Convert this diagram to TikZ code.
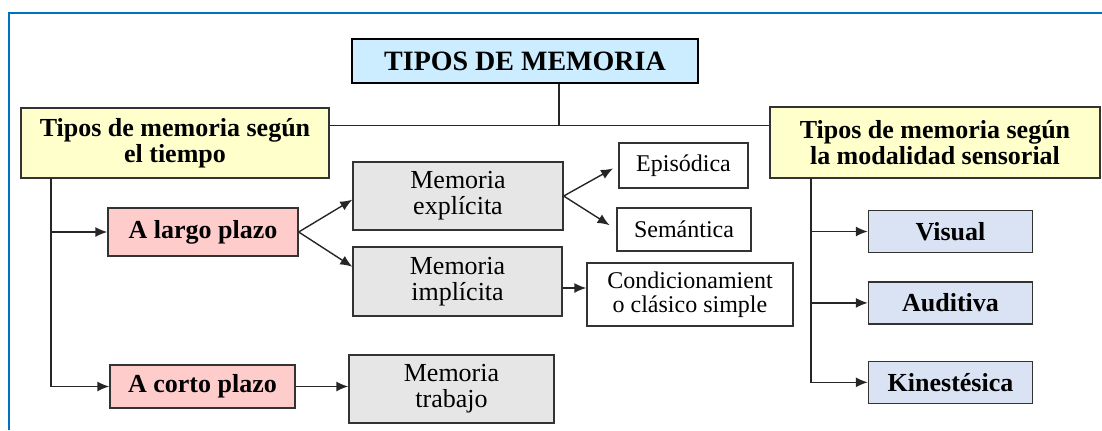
\documentclass[tikz,border=0pt]{standalone}
\usepackage{fontspec}
\setmainfont{Liberation Serif}
\usetikzlibrary{arrows.meta, positioning}
\definecolor{framecol}{RGB}{0,112,192}
\definecolor{titlecol}{RGB}{204,236,255}
\definecolor{groupcol}{RGB}{255,255,204}
\definecolor{termcol}{RGB}{255,204,204}
\definecolor{memocol}{RGB}{230,230,230}
\definecolor{sensecol}{RGB}{218,227,243}
\tikzset{
    titlebox/.style={
        rectangle, draw=black, line width=1.1pt,
        minimum width=173pt, minimum height=22pt, inner sep=0pt,
        fill=titlecol, font=\fontsize{14}{15}\selectfont\bfseries
    },
    groupbox/.style={
        rectangle, draw=black!80, line width=0.7pt,
        inner sep=0pt, align=center,
        fill=groupcol, font=\fontsize{13}{13}\selectfont\bfseries
    },
    termbox/.style={
        rectangle, draw=black!80, line width=0.7pt,
        inner sep=0pt, fill=termcol,
        font=\fontsize{13}{13}\selectfont\bfseries
    },
    memobox/.style={
        rectangle, draw=black!80, line width=0.7pt,
        inner sep=0pt, align=center,
        fill=memocol, font=\fontsize{13}{13}\selectfont
    },
    leafbox/.style={
        rectangle, draw=black!80, line width=0.7pt,
        inner sep=0pt, align=center,
        fill=white, font=\fontsize{12}{11.8}\selectfont
    },
    sensebox/.style={
        rectangle, draw=black!80, line width=0.7pt,
        minimum width=82pt, minimum height=21pt, inner sep=0pt,
        fill=sensecol, font=\fontsize{13}{13}\selectfont\bfseries
    },
    link/.style={draw=black!85, line width=0.7pt},
    arrow/.style={link, -{Latex[length=6pt,width=5pt]}},
    frameline/.style={draw=framecol, line width=1pt}
}

\begin{document}
\begin{tikzpicture}[x=0.5pt, y=-0.5pt]

\useasboundingbox (0,0) rectangle (1102,430);
\draw[frameline] (8.5,430) -- (8.5,13) -- (1102,13);

% title and the two groups
\node[titlebox] (title) at (525,61) {TIPOS DE MEMORIA};
\node[groupbox, minimum width=154pt, minimum height=35pt] (ltime) at (175,143)
    {Tipos de memoria según\\el tiempo};
\node[groupbox, minimum width=165pt, minimum height=35.5pt] (rsens) at (935,142.5)
    {Tipos de memoria según\\la modalidad sensorial};

\coordinate (hub) at (559,125.5);
\draw[link] (hub |- title.south) -- (hub);
\draw[link] (ltime.east |- hub) -- (rsens.west |- hub);

% memory by time
\node[termbox, minimum width=95pt, minimum height=24pt] (largo) at (203,232) {A largo plazo};
\node[termbox, minimum width=92.5pt, minimum height=21.5pt] (corto) at (202.5,386.5) {A corto plazo};

\node[memobox, minimum width=105pt, minimum height=34pt] (mexp) at (458,196) {Memoria\\explícita};
\node[memobox, minimum width=104.5pt, minimum height=34.5pt] (mimp) at (457.5,281.5) {Memoria\\implícita};
\node[memobox, minimum width=102.5pt, minimum height=34pt] (mtrab) at (451.5,389) {Memoria\\trabajo};

\node[leafbox, minimum width=64.5pt, minimum height=22.5pt] (epis) at (683.5,165.5) {Episódica};
\node[leafbox, minimum width=67pt, minimum height=21.5pt] (sem) at (684,229.5) {Semántica};
\node[leafbox, minimum width=103pt, minimum height=31.5pt] (cond) at (690,294.5)
    {Condicionamient\\o clásico simple};

\coordinate (lbus) at (51,178);
\draw[arrow] (lbus) |- (corto.west);
\draw[arrow] (lbus |- largo.west) -- (largo.west);

\draw[arrow] (largo.east) -- (mexp.182);
\draw[arrow] (largo.east) -- (mimp.172);
\draw[arrow, shorten >=3pt] (mexp.east) -- (epis.west);
\draw[arrow, shorten >=4pt] (mexp.east) -- (sem.west);
\draw[arrow] ([yshift=-3.25pt]mimp.east) -- ([yshift=-3.25pt]mimp.east -| cond.west);
\draw[arrow] (corto.east) -- (corto.east -| mtrab.west);

% memory by sense
\node[sensebox] (vis) at (950.5,231.5) {Visual};
\node[sensebox, below=14pt of vis] (aud) {Auditiva};
\node[sensebox, below=18pt of aud] (kin) {Kinestésica};

\coordinate (rbus) at (811,178);
\draw[arrow] (rbus) |- (kin.west);
\draw[arrow] (rbus |- vis.west) -- (vis.west);
\draw[arrow] (rbus |- aud.west) -- (aud.west);

\end{tikzpicture}
\end{document}
